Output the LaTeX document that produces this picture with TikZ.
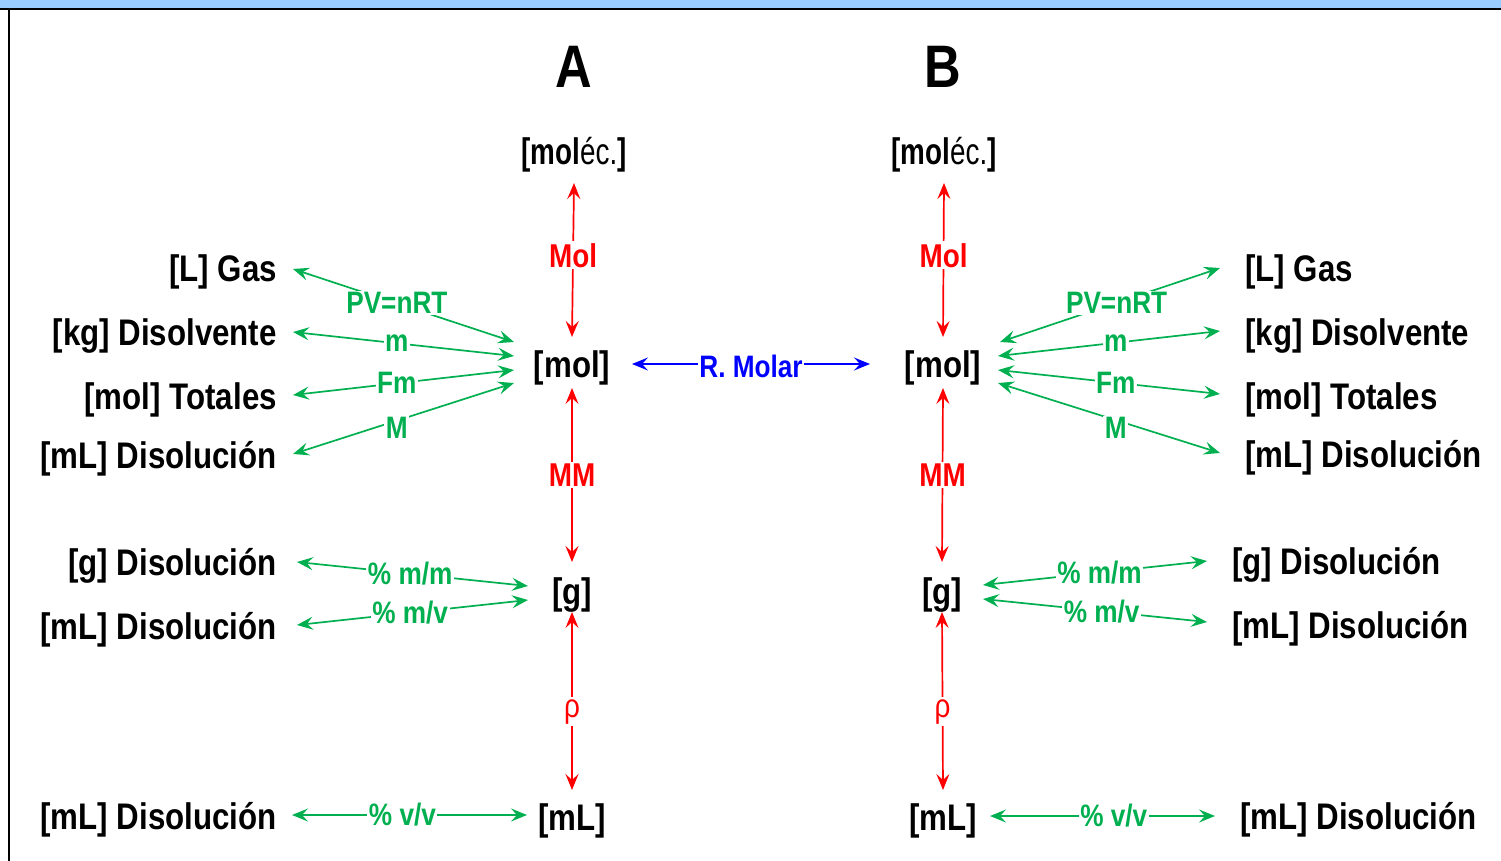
\documentclass[tikz,border=0pt]{standalone}
\usepackage{fontspec}
\setmainfont{Liberation Sans}[FakeStretch=0.845]
\usetikzlibrary{arrows.meta,calc}
\definecolor{topband}{HTML}{99CCFF}
\definecolor{gr}{HTML}{00B050}
\definecolor{rd}{HTML}{FF0000}
\definecolor{bl}{HTML}{0000FF}
\tikzset{
  unit/.style={font=\bfseries\fontsize{37}{40}\selectfont, inner sep=0pt},
  head/.style={font=\bfseries\fontsize{60}{62}\selectfont, inner sep=0pt},
  conv/.style={line width=1.7pt, {Stealth[length=16pt,width=13pt,inset=6pt]}-{Stealth[length=16pt,width=13pt,inset=6pt]}},
  rarr/.style={conv, rd},
  garr/.style={conv, gr},
  barr/.style={conv, bl},
  rlbl/.style={rd, fill=white, inner sep=2pt, font=\bfseries\fontsize{33}{36}\selectfont},
  glbl/.style={gr, fill=white, inner sep=1.5pt, font=\bfseries\fontsize{31}{34}\selectfont},
  blbl/.style={bl, fill=white, inner sep=1.5pt, font=\bfseries\fontsize{31}{34}\selectfont},
}
\newcommand{\molec}{\scalebox{0.89}[1]{[mol{\mdseries éc.}]}}
\begin{document}
\begin{tikzpicture}[x=1pt,y=-1pt]
\useasboundingbox (0,0) rectangle (1501,861);
% frame
\fill[topband] (0,0) rectangle (1501,9);
\draw[line width=2.5pt] (0,9) -- (1501,9);
\draw[line width=2.5pt] (9,9) -- (9,861);

% headings
\node[head] (hA) at (574,67) {A};
\node[head] (hB) at (943,67) {B};

% central column A
\node[unit] (molecA) at (574,155) {\molec};
\node[unit] (molA) at (572,368) {[mol]};
\node[unit] (gA) at (572,595) {[g]};
\node[unit] (mlA) at (572,821) {[mL]};

% central column B
\node[unit] (molecB) at (944,155) {\molec};
\node[unit] (molB) at (943,368) {[mol]};
\node[unit] (gB) at (942,595) {[g]};
\node[unit] (mlB) at (943,821) {[mL]};

% outer units, side A
\node[unit, anchor=east] (gasA) at (277,272) {[L] Gas};
\node[unit, anchor=east] (kgA) at (277,336) {[kg] Disolvente};
\node[unit, anchor=east] (totA) at (277,400) {[mol] Totales};
\node[unit, anchor=east] (dmA) at (277,459) {[mL] Disolución};
\node[unit, anchor=east] (dgA) at (277,566) {[g] Disolución};
\node[unit, anchor=east] (dvA) at (277,630) {[mL] Disolución};
\node[unit, anchor=east] (dlA) at (277,820) {[mL] Disolución};

% outer units, side B
\node[unit, anchor=west] (gasB) at (1245,272) {[L] Gas};
\node[unit, anchor=west] (kgB) at (1245,336) {[kg] Disolvente};
\node[unit, anchor=west] (totB) at (1245,400) {[mol] Totales};
\node[unit, anchor=west] (dmB) at (1245,458) {[mL] Disolución};
\node[unit, anchor=west] (dgB) at (1232,565) {[g] Disolución};
\node[unit, anchor=west] (dvB) at (1232,629) {[mL] Disolución};
\node[unit, anchor=west] (dlB) at (1240,820) {[mL] Disolución};

% red conversions along each column
\foreach \c in {A,B}{
  \draw[rarr] ($(molec\c)+(0,28)$) -- node[rlbl, pos=0.47]{Mol} ($(mol\c)+(0,-31)$);
  \draw[rarr] ($(mol\c)+(0,20)$) -- node[rlbl]{MM} ($(g\c)+(0,-33)$);
  \draw[rarr] ($(g\c)+(0,17)$) -- node[rlbl, pos=0.56, font=\mdseries\fontsize{33}{36}\selectfont]{ρ} ($(ml\c)+(0,-31)$);
}

% molar ratio between the two substances
\draw[barr] ($(molA)+(60,-4)$) -- node[blbl, pos=0.5, yshift=-2pt]{R. Molar} ($(molB)+(-73,-4)$);

% green conversions, side A
\draw[garr] ($(gasA.east)+(16,-3)$) -- node[glbl, pos=0.47]{PV=nRT} ($(molA)+(-58,-26)$);
\draw[garr] ($(kgA.east)+(16,-4)$) -- node[glbl, pos=0.47]{m} ($(molA)+(-58,-12)$);
\draw[garr] ($(totA.east)+(16,-5)$) -- node[glbl, pos=0.47]{Fm} ($(molA)+(-58,2)$);
\draw[garr] ($(dmA.east)+(16,-5)$) -- node[glbl, pos=0.47, yshift=-7pt]{M} ($(molA)+(-58,15)$);
\draw[garr] ($(dgA.east)+(20,-4)$) -- node[glbl, pos=0.49]{\% m/m} ($(gA)+(-44,-9)$);
\draw[garr] ($(dvA.east)+(20,-5)$) -- node[glbl, pos=0.49]{\% m/v} ($(gA)+(-44,5)$);
\draw[garr] ($(dlA.east)+(15,-5)$) -- node[glbl, pos=0.47]{\% v/v} ($(mlA)+(-45,-6)$);

% green conversions, side B
\draw[garr] ($(gasB.west)+(-25,-4)$) -- node[glbl, pos=0.47]{PV=nRT} ($(molB)+(57,-26)$);
\draw[garr] ($(kgB.west)+(-25,-5)$) -- node[glbl, pos=0.47]{m} ($(molB)+(55,-12)$);
\draw[garr] ($(totB.west)+(-25,-6)$) -- node[glbl, pos=0.47]{Fm} ($(molB)+(55,2)$);
\draw[garr] ($(dmB.west)+(-25,-5)$) -- node[glbl, pos=0.47, yshift=-8pt]{M} ($(molB)+(55,15)$);
\draw[garr] ($(dgB.west)+(-25,-4)$) -- node[glbl, pos=0.48]{\% m/m} ($(gB)+(41,-10)$);
\draw[garr] ($(dvB.west)+(-25,-7)$) -- node[glbl, pos=0.47]{\% m/v} ($(gB)+(41,4)$);
\draw[garr] ($(dlB.west)+(-25,-4)$) -- node[glbl, pos=0.45]{\% v/v} ($(mlB)+(47,-5)$);
\end{tikzpicture}
\end{document}
